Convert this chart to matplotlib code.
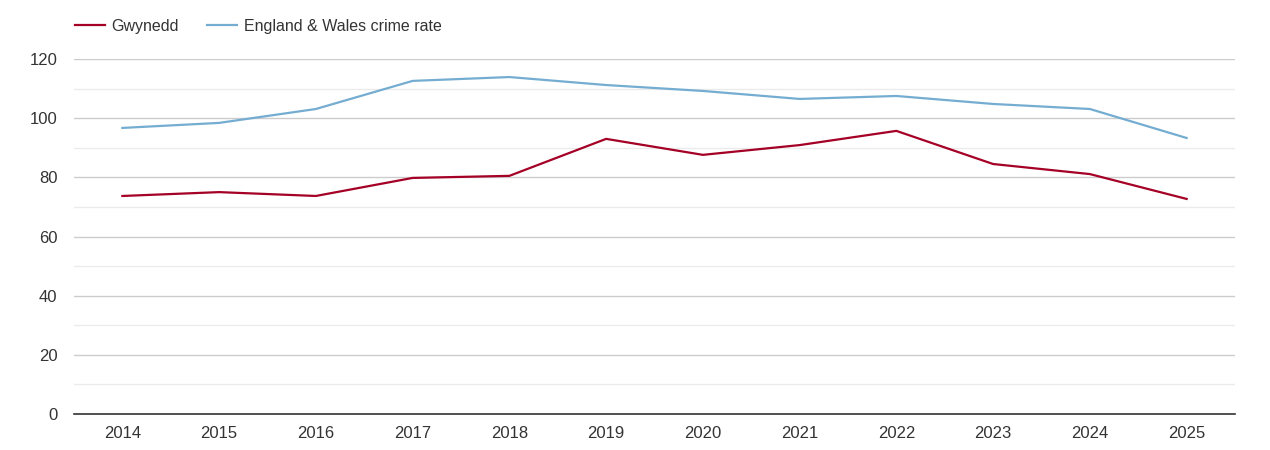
import numpy as np
import matplotlib.pyplot as plt
from matplotlib.ticker import MultipleLocator

# crime rate values
years = ['2014', '2015', '2016', '2017', '2018', '2019',
         '2020', '2021', '2022', '2023', '2024', '2025']
gwynedd = [73.7, 75.0, 73.7, 79.8, 80.5, 93.0, 87.6, 90.9, 95.7, 84.5, 81.1, 72.7]
eng_wales = [96.7, 98.4, 103.1, 112.6, 113.9, 111.2, 109.2, 106.5, 107.5, 104.8, 103.1, 93.3]

plt.rcParams['font.family'] = ['Liberation Sans', 'DejaVu Sans']

fig = plt.figure(figsize=(12.7, 4.5), dpi=100)
ax = fig.add_axes([74/1270, 1 - 414/450, (1235 - 74)/1270, (414 - 59)/450])

x = np.arange(len(years))
ax.plot(x, gwynedd, color='#a50026', lw=1.6, label='Gwynedd')
ax.plot(x, eng_wales, color='#74add1', lw=1.6, label='England & Wales crime rate')

ax.set_xlim(-0.5, len(years) - 0.5)
ax.set_ylim(0, 120)
ax.set_xticks(x)
ax.set_xticklabels(years)
ax.yaxis.set_major_locator(MultipleLocator(20))
ax.yaxis.set_minor_locator(MultipleLocator(10))

ax.grid(axis='y', which='major', color='#cccccc', lw=1)
ax.grid(axis='y', which='minor', color='#ebebeb', lw=1)
ax.set_axisbelow(True)

for s in ['top', 'right', 'left']:
    ax.spines[s].set_visible(False)
ax.spines['bottom'].set_color('#333333')
ax.spines['bottom'].set_linewidth(1.2)

ax.tick_params(axis='both', which='both', length=0, labelsize=12, colors='#333333')
ax.tick_params(axis='x', pad=9)
ax.tick_params(axis='y', pad=12)

leg = fig.legend(loc='upper left', bbox_to_anchor=(75/1270, 1 - 19/450), ncol=2,
                 frameon=False, fontsize=11.5, handlelength=1.85, columnspacing=1.75,
                 handletextpad=0.45, borderaxespad=0, borderpad=0)
for t in leg.get_texts():
    t.set_color('#333333')

fig.savefig('out.png', dpi=100)
